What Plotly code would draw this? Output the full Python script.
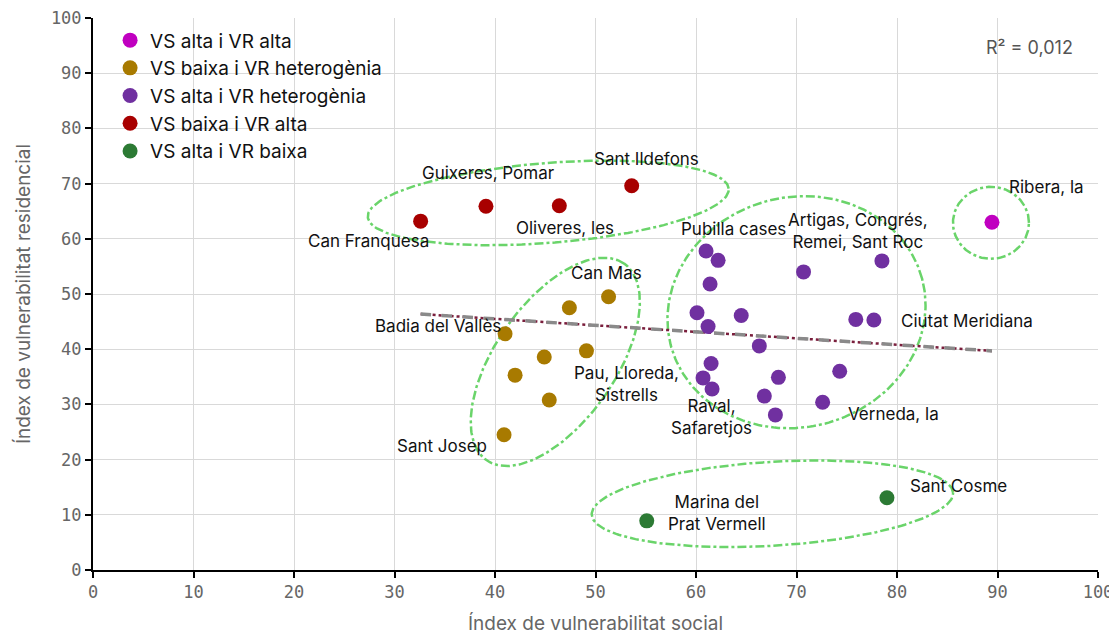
import numpy as np
import plotly.graph_objects as go

# ---- data ----
alta_alta_x = [89.45]
alta_alta_y = [63.0]

baixa_het_x = [51.3, 47.4, 41.0, 44.9, 49.1, 42.0, 45.4, 40.9]
baixa_het_y = [49.5, 47.5, 42.8, 38.6, 39.7, 35.3, 30.8, 24.5]

alta_het_x = [61.0, 62.2, 61.4, 70.7, 78.5, 60.1, 61.2, 64.5, 66.3, 75.9, 77.7,
              61.5, 60.7, 61.6, 68.2, 74.3, 66.8, 72.6, 67.9]
alta_het_y = [57.8, 56.1, 51.8, 54.0, 56.0, 46.6, 44.1, 46.1, 40.6, 45.4, 45.3,
              37.4, 34.8, 32.8, 34.9, 36.0, 31.5, 30.4, 28.1]

baixa_alta_x = [32.6, 39.1, 46.4, 53.6]
baixa_alta_y = [63.2, 65.9, 66.0, 69.6]

alta_baixa_x = [55.1, 79.0]
alta_baixa_y = [8.9, 13.1]

series_names = ["VS alta i VR alta", "VS baixa i VR heterogènia", "VS alta i VR heterogènia",
                "VS baixa i VR alta", "VS alta i VR baixa"]
series_colors = ["#C000C0", "#A87A00", "#7030A0", "#A80000", "#2C7A34"]

label_texts = ["Ribera, la", "Artigas, Congrés,<br>Remei, Sant Roc", "Ciutat Meridiana",
               "Verneda, la", "Raval,<br>Safaretjos", "Pubilla cases", "Pau, Lloreda,<br>Sistrells",
               "Can Mas", "Badia del Vallès", "Sant Josep", "Can Franquesa", "Guixeres, Pomar",
               "Oliveres, les", "Sant Ildefons", "Marina del<br>Prat Vermell", "Sant Cosme"]
label_x = [94.9, 76.1, 80.2, 79.7, 61.5, 63.7, 53.1, 51.1, 34.3, 34.7, 27.4, 39.4, 47.0, 55.1, 62.1, 86.1]
label_y = [69.4, 61.4, 45.1, 28.3, 27.7, 61.8, 33.7, 53.8, 44.2, 22.5, 59.6, 71.9, 62.0, 74.5, 10.3, 15.2]
label_anchor = ["center", "center", "left", "center", "center", "center", "center", "center",
                "center", "center", "center", "center", "center", "center", "center", "center"]

# ellipse groups: centre (data), semi-axes (px), rotation (deg)
ell_cx = [45.3, 46.0, 70.0, 89.35, 67.6]
ell_cy = [66.5, 37.7, 46.7, 62.9, 12.0]
ell_a = [181, 120, 130, 38, 181]
ell_b = [40, 60, 115, 36, 42]
ell_ang = [4.5, 55, 15, 0, 3.5]

r2_text = "R² = 0,012"

# ---- figure ----
FONT = "Inter, 'Noto Sans', sans-serif"
MONO = "'DejaVu Sans Mono', monospace"
W, H = 1117, 636
ML, MR, MT, MB = 85, 27, 10, 74
PX_X = (W - ML - MR) / 100.0
PX_Y = (H - MT - MB) / 100.0

fig = go.Figure()

# ellipses
t = np.linspace(0, 2 * np.pi, 240)
for cx, cy, a, b, ang in zip(ell_cx, ell_cy, ell_a, ell_b, ell_ang):
    th = np.radians(ang)
    dx = a * np.cos(t) * np.cos(th) - b * np.sin(t) * np.sin(th)
    dy = a * np.cos(t) * np.sin(th) + b * np.sin(t) * np.cos(th)
    fig.add_trace(go.Scatter(x=cx + dx / PX_X, y=cy + dy / PX_Y, mode="lines",
                             line=dict(color="#6AD46A", width=2.5, dash="dashdot"),
                             showlegend=False, hoverinfo="skip"))

# trendline from all points
all_x = np.array(alta_alta_x + baixa_het_x + alta_het_x + baixa_alta_x + alta_baixa_x)
all_y = np.array(alta_alta_y + baixa_het_y + alta_het_y + baixa_alta_y + alta_baixa_y)
slope, icpt = np.polyfit(all_x, all_y, 1)
tx = np.array([all_x.min(), all_x.max()])
ty = slope * tx + icpt
fig.add_trace(go.Scatter(x=tx, y=ty, mode="lines", line=dict(color="#7A1E3C", width=2.5, dash="dot"),
                         showlegend=False, hoverinfo="skip"))
fig.add_trace(go.Scatter(x=tx, y=ty, mode="lines", line=dict(color="#8A8A8A", width=3.5, dash="dash"),
                         showlegend=False, hoverinfo="skip"))

for name, col, xs, ys in zip(series_names, series_colors,
                             [alta_alta_x, baixa_het_x, alta_het_x, baixa_alta_x, alta_baixa_x],
                             [alta_alta_y, baixa_het_y, alta_het_y, baixa_alta_y, alta_baixa_y]):
    fig.add_trace(go.Scatter(x=xs, y=ys, mode="markers", name=name,
                             marker=dict(color=col, size=15, line=dict(width=0))))

for txt, lx, ly, anc in zip(label_texts, label_x, label_y, label_anchor):
    fig.add_annotation(x=lx, y=ly, text=txt, showarrow=False, xanchor=anc, yanchor="middle",
                       font=dict(family=FONT, size=17, color="#111111"), align="center")

fig.add_annotation(x=97.7, y=94.7, text=r2_text, showarrow=False, xanchor="right", yanchor="middle",
                   font=dict(family=FONT, size=18, color="#555555"))

axis_common = dict(range=[0, 100], dtick=10, showgrid=True, gridcolor="#D9D9D9", gridwidth=1,
                   showline=True, linecolor="#000000", linewidth=2, ticks="outside",
                   tickcolor="#000000", ticklen=6, tickwidth=2, zeroline=False,
                   ticklabeloverflow="allow", automargin=False,
                   tickfont=dict(family=MONO, size=17, color="#666666"), mirror=False)

fig.update_layout(
    width=W, height=H,
    margin=dict(l=ML, r=MR, t=MT, b=MB),
    paper_bgcolor="white", plot_bgcolor="white",
    xaxis=dict(**axis_common, title=dict(text="Índex de vulnerabilitat social",
                                         font=dict(family=FONT, size=19, color="#666666"))),
    yaxis=dict(**axis_common, title=dict(text="Índex de vulnerabilitat residencial",
                                         font=dict(family=FONT, size=19, color="#666666"))),
    legend=dict(x=0.017, y=0.994, xanchor="left", yanchor="top", bgcolor="rgba(0,0,0,0)",
                font=dict(family=FONT, size=19, color="#111111"), tracegroupgap=0),
    showlegend=True,
)

fig.write_html("out.html")
